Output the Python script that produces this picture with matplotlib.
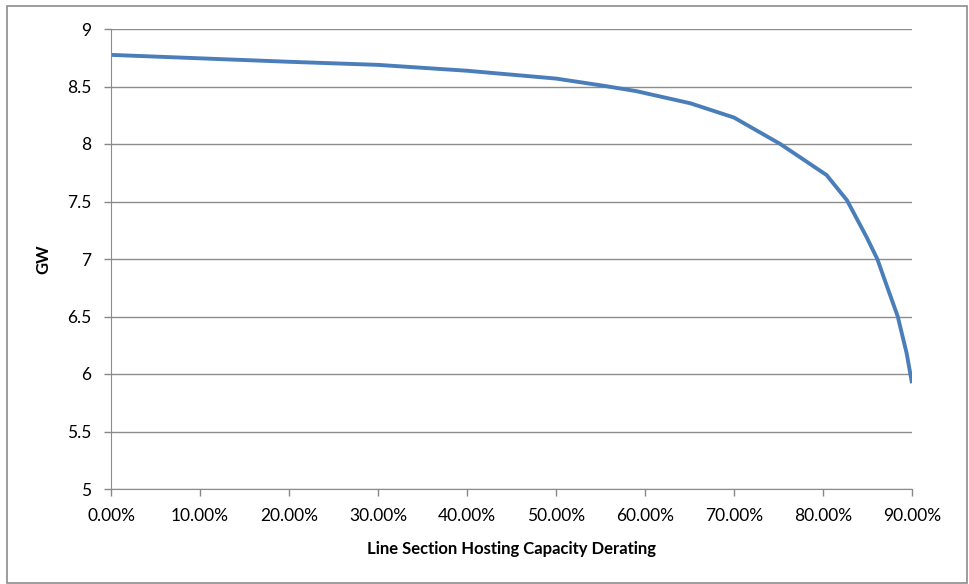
import numpy as np
import matplotlib.pyplot as plt
from matplotlib.patches import Rectangle

# derating fraction vs hosting capacity (GW)
derating = [0.00, 0.10, 0.20, 0.30, 0.40, 0.50, 0.553, 0.59, 0.651, 0.70,
            0.752, 0.804, 0.827, 0.849, 0.861, 0.872, 0.884, 0.894, 0.90]
gw = [8.775, 8.745, 8.715, 8.688, 8.637, 8.569, 8.507, 8.46, 8.354, 8.23,
      8.00, 7.73, 7.51, 7.19, 7.00, 6.76, 6.50, 6.18, 5.92]

x_ticks = np.arange(0, 0.91, 0.10)
y_ticks = np.arange(5, 9.01, 0.5)

plt.rcParams['font.family'] = ['Lato', 'DejaVu Sans']

fig = plt.figure(figsize=(9.69, 5.84), dpi=100)
# plot area: x 111..912 px, y 29..489 px
ax = fig.add_axes([111 / 969, 1 - 489 / 584, 801 / 969, 460 / 584])

ax.plot(derating, gw, color='#4a7ebb', linewidth=2.8,
        solid_capstyle='butt', solid_joinstyle='round')

ax.set_xlim(0, 0.90)
ax.set_ylim(5, 9)
ax.set_xticks(x_ticks)
ax.set_xticklabels([f'{v*100:.2f}%' for v in x_ticks])
ax.set_yticks(y_ticks)
ax.set_yticklabels([f'{v:g}' for v in y_ticks])
ax.tick_params(axis='both', labelsize=12.5, color='#888888', length=5, width=1)
ax.tick_params(axis='x', pad=9)
ax.tick_params(axis='y', pad=9)

ax.grid(axis='y', color='#8c8c8c', linewidth=1)
ax.set_axisbelow(True)
for side in ['top', 'right']:
    ax.spines[side].set_visible(False)
for side in ['left', 'bottom']:
    ax.spines[side].set_color('#8c8c8c')

ax.set_xlabel('Line Section Hosting Capacity Derating', fontsize=12, fontweight='bold')
ax.set_ylabel('GW', fontsize=12, fontweight='bold')
ax.xaxis.set_label_coords(0.5, -0.112)
ax.yaxis.set_label_coords(-0.074, 0.5)

# outer chart border
fig.patches.append(Rectangle((6.5 / 969, 1.5 / 584), 960.5 / 969, 577 / 584,
                             transform=fig.transFigure, fill=False,
                             edgecolor='#8c8c8c', linewidth=1.2))

fig.savefig('out.png', dpi=100)
